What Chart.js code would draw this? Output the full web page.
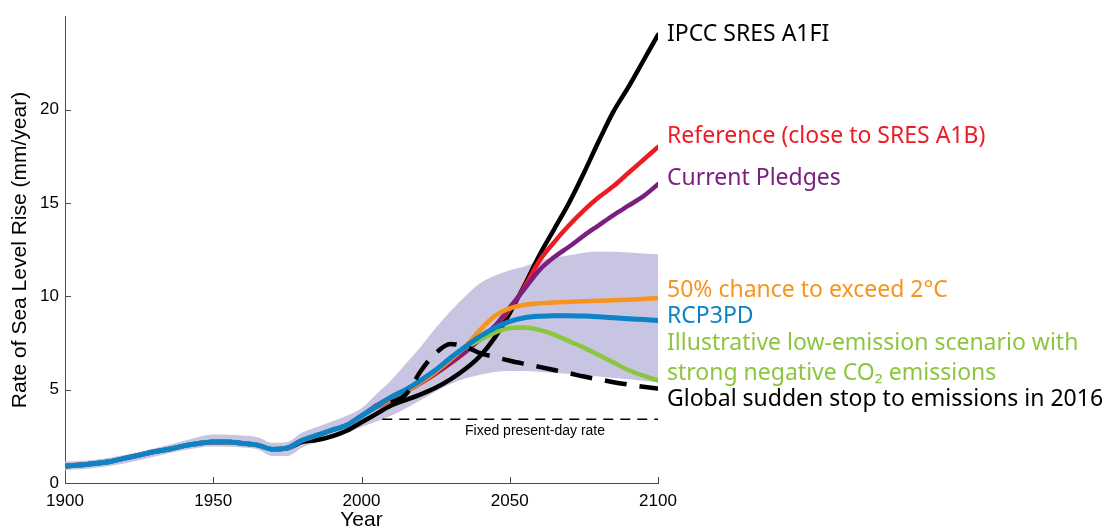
<!DOCTYPE html>
<html>
<head>
<meta charset="utf-8">
<script src="https://cdn.jsdelivr.net/npm/chart.js@4/dist/chart.umd.min.js"></script>
<style>
  html, body { margin: 0; padding: 0; background: #fff; }
</style>
</head>
<body>
<canvas id="slr-chart" width="1108" height="531"></canvas>
<script>
// observed / common part of every curve
const histYears = [1900, 1905, 1910, 1915, 1920, 1925, 1930, 1935, 1940, 1945, 1950,
                   1955, 1960, 1965, 1970, 1975, 1980, 1985, 1990, 1995, 2000];
const histRate = [0.91, 0.96, 1.05, 1.14, 1.32, 1.49, 1.67, 1.81, 1.99, 2.12, 2.2,
                  2.19, 2.12, 2.03, 1.81, 1.88, 2.29, 2.56, 2.83, 3.09, 3.6];
const histRateA1FI = [0.91, 0.96, 1.05, 1.14, 1.32, 1.49, 1.67, 1.81, 1.99, 2.12, 2.2,
                      2.19, 2.12, 2.03, 1.81, 1.86, 2.2, 2.3, 2.5, 2.8, 3.25];

// scenarios
const futureYears = [2005, 2010, 2015, 2020, 2025, 2030, 2035, 2040, 2045, 2050,
                     2055, 2060, 2065, 2070, 2075, 2080, 2085, 2090, 2095, 2100];
const a1fi = [3.7, 4.15, 4.45, 4.75, 5.1, 5.55, 6.1, 6.8, 7.8, 9.1,
              10.6, 12.2, 13.6, 15.0, 16.6, 18.3, 19.9, 21.2, 22.6, 24.0];
const reference = [4.05, 4.45, 4.9, 5.35, 5.85, 6.4, 7.0, 7.7, 8.4, 9.3,
                   10.5, 11.9, 12.9, 13.8, 14.6, 15.3, 15.9, 16.6, 17.3, 18.0];
const pledges = [4.15, 4.6, 5.0, 5.45, 5.9, 6.45, 7.05, 7.7, 8.4, 9.4,
                 10.4, 11.4, 12.1, 12.65, 13.25, 13.8, 14.35, 14.85, 15.35, 16.0];
const twoDegree = [4.1, 4.5, 4.9, 5.4, 5.95, 6.6, 7.3, 8.2, 8.95, 9.35,
                   9.55, 9.62, 9.67, 9.7, 9.73, 9.76, 9.79, 9.82, 9.86, 9.9];
const rcp3pd = [4.1, 4.6, 5.0, 5.5, 6.05, 6.7, 7.3, 7.85, 8.3, 8.65,
                8.85, 8.93, 8.96, 8.96, 8.94, 8.9, 8.85, 8.8, 8.75, 8.7];
const negativeCO2 = [4.1, 4.55, 5.0, 5.5, 6.05, 6.7, 7.25, 7.65, 8.05, 8.3,
                     8.33, 8.2, 7.95, 7.6, 7.25, 6.85, 6.45, 6.05, 5.75, 5.5];
const suddenStop = [null, 4.3, 4.75, 6.0, 6.95, 7.45, 7.3, 6.95, 6.75, 6.55,
                    6.38, 6.22, 6.05, 5.88, 5.7, 5.55, 5.4, 5.27, 5.15, 5.05];

// uncertainty band
const bandYears = [1900, 1910, 1920, 1930, 1940, 1950, 1960, 1965, 1970, 1975, 1980, 1985,
                   1990, 1995, 2000, 2005, 2010, 2015, 2020, 2025, 2030, 2035, 2040, 2045,
                   2050, 2055, 2060, 2070, 2080, 2090, 2100];
const bandHigh = [1.15, 1.25, 1.5, 1.85, 2.25, 2.6, 2.55, 2.45, 2.15, 2.2, 2.7, 3.0,
                  3.3, 3.6, 4.0, 4.75, 5.5, 6.4, 7.3, 8.3, 9.2, 10.0, 10.7, 11.1,
                  11.4, 11.6, 11.9, 12.2, 12.4, 12.35, 12.25];
const bandLow = [0.68, 0.8, 1.05, 1.4, 1.75, 1.95, 1.9, 1.8, 1.45, 1.45, 1.9, 2.2,
                 2.45, 2.7, 3.0, 3.3, 3.6, 4.0, 4.45, 4.9, 5.3, 5.6, 5.8, 5.95,
                 6.0, 6.0, 5.95, 5.85, 5.7, 5.55, 5.4];

const fixedYears = [2007, 2100];
const fixedRate = [3.42, 3.42];

const xTicks = [1900, 1950, 2000, 2050, 2100];
const yTicks = [0, 5, 10, 15, 20];

const labels = ['IPCC SRES A1FI', 'Reference (close to SRES A1B)', 'Current Pledges',
                '50% chance to exceed 2°C', 'RCP3PD', 'Illustrative low-emission scenario with',
                'strong negative CO₂ emissions', 'Global sudden stop to emissions in 2016'];
const labelColors = ['#000000', '#ed1c24', '#7a1f80', '#f7941d', '#0b83c6', '#8cc63f', '#8cc63f', '#000000'];
const labelBaselines = [41, 143, 185, 297, 323, 350, 380, 406];

function pts(years, values) {
    return years.map((yr, i) => ({x: yr, y: values[i]}));
}
function scenario(values) {
    return pts(histYears.concat(futureYears), histRate.concat(values));
}

const lineBase = {pointRadius: 0, borderWidth: 4.5, fill: false, cubicInterpolationMode: 'monotone', borderCapStyle: 'round'};

const annotations = {
    id: 'annotations',
    afterDraw(chart) {
        const ctx = chart.ctx;
        const xs = chart.scales.x, ys = chart.scales.y;
        ctx.save();
        ctx.strokeStyle = '#4d4d4d';
        ctx.lineWidth = 1;
        yTicks.slice(1).forEach(v => {
            const py = Math.round(ys.getPixelForValue(v)) + 0.5;
            ctx.beginPath(); ctx.moveTo(xs.left, py); ctx.lineTo(xs.left + 6, py); ctx.stroke();
        });
        xTicks.slice(1).forEach(v => {
            const px = Math.round(xs.getPixelForValue(v)) + 0.5;
            ctx.beginPath(); ctx.moveTo(px, ys.bottom); ctx.lineTo(px, ys.bottom - 6); ctx.stroke();
        });

        ctx.fillStyle = '#000';
        ctx.font = '21px "Liberation Sans", Arial, sans-serif';
        ctx.textAlign = 'center';
        ctx.textBaseline = 'middle';
        ctx.fillText('Year', xs.getPixelForValue(2000), 520);
        ctx.save();
        ctx.translate(20, 250);
        ctx.rotate(-Math.PI / 2);
        ctx.fillText('Rate of Sea Level Rise (mm/year)', 0, 0);
        ctx.restore();

        ctx.font = '14px "Liberation Sans", Arial, sans-serif';
        ctx.fillText('Fixed present-day rate', 535, 431);

        ctx.textAlign = 'left';
        ctx.textBaseline = 'alphabetic';
        ctx.font = '23px "Noto Sans", sans-serif';
        labels.forEach((t, i) => {
            ctx.fillStyle = labelColors[i];
            ctx.fillText(t, xs.right + 9, labelBaselines[i]);
        });
        ctx.restore();
    }
};

new Chart(document.getElementById('slr-chart').getContext('2d'), {
    type: 'line',
    data: {
        datasets: [
            Object.assign({}, lineBase, {data: pts(futureYears, suddenStop), borderColor: '#000', borderDash: [22, 13], borderCapStyle: 'butt', spanGaps: false}),
            Object.assign({}, lineBase, {data: pts(fixedYears, fixedRate), borderColor: '#000', borderWidth: 1.5, borderDash: [10, 7], borderCapStyle: 'butt'}),
            Object.assign({}, lineBase, {data: scenario(rcp3pd), borderColor: '#0b83c6', borderWidth: 5}),
            Object.assign({}, lineBase, {data: scenario(twoDegree), borderColor: '#f7941d'}),
            Object.assign({}, lineBase, {data: scenario(negativeCO2), borderColor: '#8cc63f'}),
            Object.assign({}, lineBase, {data: scenario(pledges), borderColor: '#7a1f80'}),
            Object.assign({}, lineBase, {data: scenario(reference), borderColor: '#ed1c24'}),
            Object.assign({}, lineBase, {data: pts(histYears.concat(futureYears), histRateA1FI.concat(a1fi)), borderColor: '#000'}),
            {data: pts(bandYears, bandHigh), borderWidth: 0, pointRadius: 0, fill: '+1', backgroundColor: '#c8c5e2', cubicInterpolationMode: 'monotone'},
            {data: pts(bandYears, bandLow), borderWidth: 0, pointRadius: 0, fill: false, cubicInterpolationMode: 'monotone'}
        ]
    },
    options: {
        responsive: false,
        animation: false,
        devicePixelRatio: 1,
        layout: {padding: {top: 15, right: 450, left: 0, bottom: 0}},
        plugins: {legend: {display: false}, tooltip: {enabled: false}},
        scales: {
            x: {
                type: 'linear', min: 1900, max: 2100,
                grid: {display: false, drawTicks: false},
                border: {display: true, color: '#4d4d4d', width: 1},
                afterBuildTicks: s => { s.ticks = xTicks.map(v => ({value: v})); },
                afterFit: s => { s.height = 48; },
                ticks: {padding: 8, color: '#000', font: {family: '"Liberation Sans", Arial, sans-serif', size: 17},
                        maxRotation: 0, callback: v => String(v)}
            },
            y: {
                min: 0, max: 25,
                grid: {display: false, drawTicks: false},
                border: {display: true, color: '#4d4d4d', width: 1},
                afterBuildTicks: s => { s.ticks = yTicks.map(v => ({value: v})); },
                afterFit: s => { s.width = 65; },
                ticks: {padding: 6, color: '#000', font: {family: '"Liberation Sans", Arial, sans-serif', size: 17},
                        callback: v => String(v)}
            }
        }
    },
    plugins: [annotations]
});
</script>
</body>
</html>
